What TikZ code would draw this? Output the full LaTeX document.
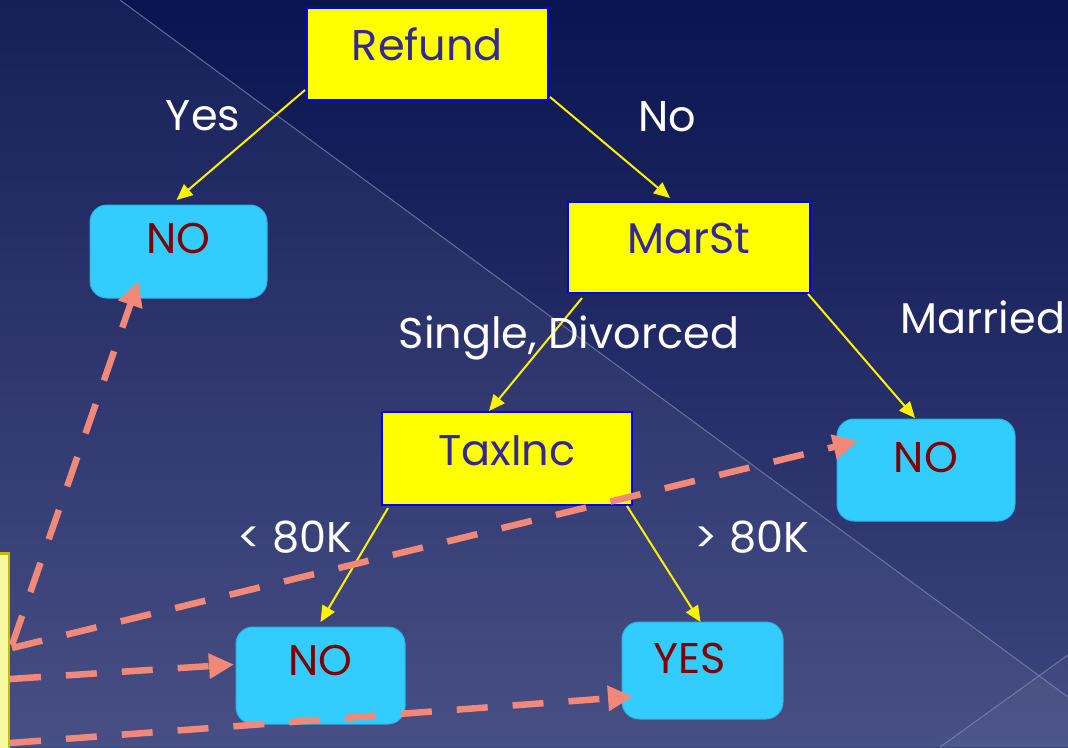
\documentclass[tikz,border=0pt]{standalone}
\usepackage{fontspec}
\setmainfont{Poppins}
\usetikzlibrary{arrows.meta,calc}

\definecolor{bgtop}{RGB}{10,20,80}
\definecolor{bgbot}{RGB}{62,70,126}
\definecolor{testfill}{RGB}{255,255,0}
\definecolor{testedge}{RGB}{0,0,255}
\definecolor{testtext}{RGB}{51,40,150}
\definecolor{leaffill}{RGB}{51,204,255}
\definecolor{leafedge}{RGB}{40,180,230}
\definecolor{leaftext}{RGB}{128,0,0}
\definecolor{recfill}{RGB}{248,248,160}
\definecolor{recedge}{RGB}{190,190,0}
\definecolor{trace}{RGB}{242,137,120}
\definecolor{guide}{RGB}{130,138,180}

\tikzset{
  box/.style={anchor=north west, inner sep=0pt, outer sep=0pt,
    font=\fontsize{43}{50}\selectfont},
  dims/.style n args={3}{minimum width=#1pt, text height=#2pt, text depth=#3pt},
  test/.style={box, fill=testfill, draw=testedge, line width=2pt, text=testtext},
  leaf/.style={box, fill=leaffill, draw=leafedge, line width=1pt,
    rounded corners=17pt, text=leaftext},
  branch/.style={draw=yellow, line width=2pt, -{Triangle[length=16pt,width=14pt]}},
  lbl/.style={anchor=base, text=white, font=\fontsize{43}{50}\selectfont},
  trail/.style={draw=trace, line width=6.5pt, dash pattern=on 31pt off 25pt,
    -{Triangle[length=25pt,width=24pt]}},
}

\begin{document}
\begin{tikzpicture}[x=1pt,y=-1pt]
  \useasboundingbox (0,0) rectangle (1068,747);
  \clip (0,0) rectangle (1068,747);

  % backdrop
  \fill[top color=bgtop, bottom color=bgbot] (0,0) rectangle (1068,747);
  \fill[white, opacity=0.05] (0,0) -- (120,0) -- (1068,697) -- (1068,747) -- (0,747) -- cycle;
  \fill[white, opacity=0.04] (940,747) -- (1068,655) -- (1068,747) -- cycle;
  \draw[guide, line width=1pt, opacity=0.7] (120,0) -- (1068,697);
  \draw[guide, line width=1pt, opacity=0.7] (940,747) -- (1068,655);

  % record box at the left edge
  \node[draw=recedge, fill=recfill, line width=2.5pt, anchor=north east,
        minimum width=200pt, minimum height=260pt, inner sep=0pt] (rec) at (10,552) {};

  % tree nodes
  \node[test, dims={241}{52}{40}] (refund) at (307,8) {Refund};
  \node[test, dims={242}{51}{40}] (marst) at (568,202) {MarSt};
  \node[test, dims={250}{53}{40}] (taxinc) at (382,412) {TaxInc};
  \node[leaf, dims={177}{48}{45}] (noA) at (90,205) {NO};
  \node[leaf, dims={178}{53}{49}] (noR) at (837,419) {NO};
  \node[leaf, dims={169}{48}{49}] (noB) at (236,627) {NO};
  \node[leaf, dims={161}{51}{46}] (yes) at (622,622) {YES\kern26pt};

  % branches
  \draw[branch] ($(refund.south west)+(-2,-10)$) -- ($(noA.north)+(-2,-5)$);
  \draw[branch] ($(refund.south east)+(2,-3)$) -- ($(marst.north)+(-19,-4)$);
  \draw[branch] ($(marst.south west)+(14,5)$) -- ($(taxinc.north)+(-18,-1)$);
  \draw[branch] ($(marst.south east)+(-2,1)$) -- ($(noR.north)+(-11,-1)$);
  \draw[branch] ($(taxinc.south west)+(6,3)$) -- ($(noB.north)+(0,-5)$);
  \draw[branch] ($(taxinc.south east)+(-5,1)$) -- ($(yes.north)+(-2,0)$);

  % branch labels
  \node[lbl] (lyes) at (203,130) {Yes};
  \node[lbl] (lno) at (667,131) {No};
  \node[lbl] (lsd) at (569,348) {Single, Divorced};
  \node[lbl] (lmar) at (983,333) {Married};
  \node[lbl] (llt) at (295,552) {< 80K};
  \node[lbl] (lgt) at (752,552) {> 80K};

  % traces from the record into the tree
  \coordinate (s1) at ($(rec.north east)+(2,93)$);
  \coordinate (s2) at ($(rec.north east)+(2,96)$);
  \coordinate (s3) at ($(rec.north east)+(0,127)$);
  \coordinate (s4) at ($(rec.north east)+(0,191)$);
  \draw[trail] (s1) -- ($(noA.south)+(-40,-17)$);
  \draw[trail] (s2) -- ($(noR.north west)+(21,22)$);
  \draw[trail] (s3) -- ($(noB.west)+(-2,-11)$);
  \draw[trail] (s4) -- ($(yes.west)+(11,26)$);
\end{tikzpicture}
\end{document}
